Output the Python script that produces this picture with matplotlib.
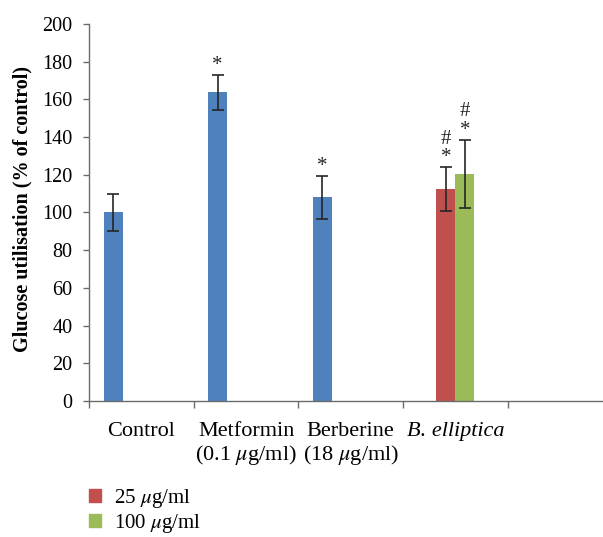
import matplotlib
matplotlib.use('Agg')
import matplotlib.pyplot as plt
from matplotlib.patches import Patch

plt.rcParams['font.family'] = ['Liberation Serif', 'DejaVu Serif']
plt.rcParams['mathtext.fontset'] = 'stix'

# Datos: utilizacion de glucosa (% del control), media y error
groups = ['Control', 'Metformin\n(0.1 $\\mu$g/ml)', 'Berberine\n(18 $\\mu$g/ml)', 'B. elliptica']
ref_means = [100, 163.7, 108]
ref_err = [10, 9.5, 11.5]
ref_marks = ['', '*', '*']

be_labels = ['25 $\\mu$g/ml', '100 $\\mu$g/ml']
be_means = [112.5, 120.5]
be_err = [11.6, 18.2]
be_marks = ['*', '*']
be_hash = ['#', '#']

yticks = [0, 20, 40, 60, 80, 100, 120, 140, 160, 180, 200]

blue = '#4F81BD'
be_colors = ['#C0504D', '#9BBB59']
axis_color = '#6b6b6b'

# 4 huecos por categoria, separacion del 150%
w = 1 / 5.5
slot = lambda k: (k - 1.5) * w

fig = plt.figure(figsize=(6.03, 5.37), dpi=100)
ax = fig.add_axes([0.148, 0.2533, 0.85, 0.702])

err_kw = dict(ecolor='#262626', elinewidth=1.2, capsize=4, capthick=1.2)

x_ref = [i + slot(0) for i in range(len(ref_means))]
ax.bar(x_ref, ref_means, width=w, color=blue, yerr=ref_err, error_kw=err_kw, zorder=2)

x_be = [3 + slot(1), 3 + slot(2)]
for xb, m, e, c in zip(x_be, be_means, be_err, be_colors):
    ax.bar(xb, m, width=w, color=c, yerr=e, error_kw=err_kw, zorder=2)

# Marcas de significancia encima de las barras de error
for xb, m, e, s in zip(x_ref, ref_means, ref_err, ref_marks):
    if s:
        ax.annotate(s, (xb, m + e), xytext=(0, 0), textcoords='offset points',
                    ha='center', va='bottom', fontsize=15, color='#262626')
for xb, m, e, s, h in zip(x_be, be_means, be_err, be_marks, be_hash):
    ax.annotate(s, (xb, m + e), xytext=(0, 0), textcoords='offset points',
                ha='center', va='bottom', fontsize=15, color='#262626')
    ax.annotate(h, (xb, m + e), xytext=(0, 13), textcoords='offset points',
                ha='center', va='bottom', fontsize=15, color='#262626')

ax.set_ylim(0, 200)
ax.set_xlim(-0.5, 4.4)
ax.set_yticks(yticks)
ax.tick_params(axis='y', labelsize=14.5, length=4, width=1, color=axis_color, pad=8)

# Marcas del eje x entre categorias, etiquetas centradas con ticks menores
ax.set_xticks([i - 0.5 for i in range(5)])
ax.set_xticklabels([])
ax.tick_params(axis='x', which='major', length=5, width=1, color=axis_color)
ax.set_xticks(range(len(groups)), minor=True)
ax.set_xticklabels(groups, minor=True, fontsize=16, linespacing=1.15)
ax.tick_params(axis='x', which='minor', length=0, pad=15)
ax.get_xticklabels(minor=True)[3].set_fontstyle('italic')

for side in ['top', 'right']:
    ax.spines[side].set_visible(False)
for side in ['left', 'bottom']:
    ax.spines[side].set_color(axis_color)
    ax.spines[side].set_linewidth(1)

ax.set_ylabel('Glucose utilisation (% of control)', fontsize=14.5, fontweight='bold')
ax.yaxis.set_label_coords(-0.11, 0.51)

handles = [Patch(color=c) for c in be_colors]
fig.legend(handles, be_labels, loc='upper left', bbox_to_anchor=(0.147, 0.093),
           frameon=False, fontsize=15, handlelength=0.6, handleheight=0.6,
           handletextpad=0.6, labelspacing=0.08, borderpad=0, borderaxespad=0)

plt.savefig('out.png', dpi=100)
